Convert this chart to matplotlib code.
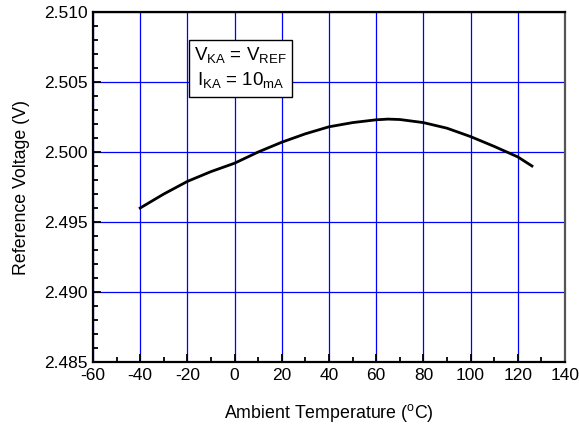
import numpy as np
import matplotlib.pyplot as plt
from matplotlib.ticker import MultipleLocator

# ----------------------------
# Data
# ----------------------------
temp_c = [-40, -30, -20, -10, 0, 10, 20, 30, 40, 50, 60, 65, 70, 80, 90, 100, 110, 120, 126]
vref = [2.4960, 2.4970, 2.4979, 2.4986, 2.4992, 2.5000, 2.5007, 2.5013, 2.5018, 2.5021, 2.5023,
        2.50235, 2.50232, 2.5021, 2.5017, 2.5011, 2.5004, 2.49965, 2.4990]

x_ticks = [-60, -40, -20, 0, 20, 40, 60, 80, 100, 120, 140]
y_ticks = [2.485, 2.490, 2.495, 2.500, 2.505, 2.510]

plt.rcParams["font.family"] = ["Liberation Sans", "DejaVu Sans"]
plt.rcParams["mathtext.fontset"] = "custom"
plt.rcParams["mathtext.rm"] = "Liberation Sans"
plt.rcParams["axes.unicode_minus"] = False

# ----------------------------
# Plot
# ----------------------------
fig = plt.figure(figsize=(5.79, 4.25), dpi=100)
ax = fig.add_axes([93 / 579, 1 - 362 / 425, 472 / 579, 350 / 425])

ax.set_xlim(-60, 140)
ax.set_ylim(2.485, 2.510)
ax.set_xticks(x_ticks)
ax.set_yticks(y_ticks)
ax.set_yticklabels([f"{v:.3f}" for v in y_ticks])
ax.xaxis.set_minor_locator(MultipleLocator(10))
ax.yaxis.set_minor_locator(MultipleLocator(0.001))

ax.grid(True, which="major", color="#0000ff", linewidth=0.9)
ax.set_axisbelow(True)

ax.plot(temp_c, vref, color="black", linewidth=2.0, zorder=3)

ax.tick_params(which="both", direction="in", top=False, right=False,
               labelsize=12.5, width=1.3, color="black")
ax.tick_params(which="major", length=6, pad=4)
ax.tick_params(which="minor", length=3.5)

for side in ["left", "bottom", "top"]:
    ax.spines[side].set_linewidth(1.6)
    ax.spines[side].set_color("black")
ax.spines["right"].set_linewidth(1.6)
ax.spines["right"].set_color("#555555")

ax.set_xlabel(r"Ambient Temperature ($^{\rm o}$C)", fontsize=12.8, labelpad=14)
ax.set_ylabel("Reference Voltage (V)", fontsize=12.8, labelpad=10)

ax.text(2.5, 2.50596,
        "V$_{\\rm KA}$ = V$_{\\rm REF}$\nI$_{\\rm KA}$ = 10$_{\\rm mA}$",
        fontsize=13.5, va="center", ha="center", linespacing=1.3,
        bbox=dict(boxstyle="square,pad=0.3", facecolor="white",
                  edgecolor="black", linewidth=1.0), zorder=4)

fig.savefig("out.png", dpi=100)
plt.close(fig)
